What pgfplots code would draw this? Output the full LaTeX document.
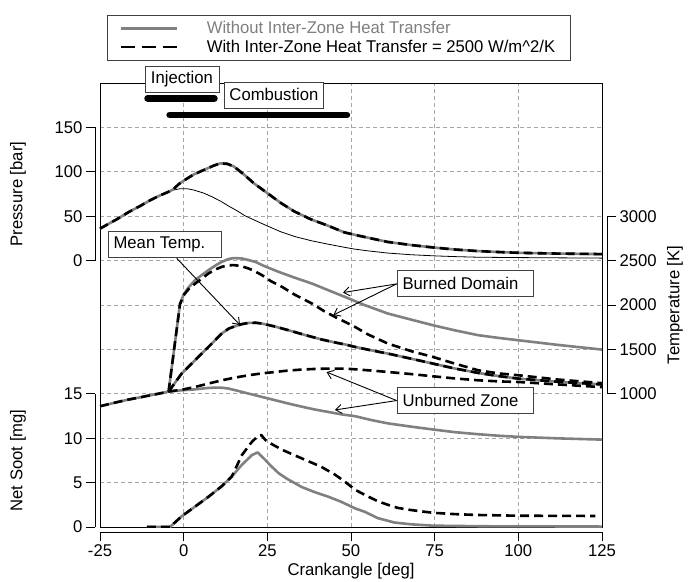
\documentclass[border=0pt]{standalone}
\usepackage{fontspec}
\setmainfont{Liberation Sans}[FakeStretch=0.98]
\usepackage{pgfplots}
\pgfplotsset{compat=1.18}
\usetikzlibrary{arrows.meta}
\definecolor{lgray}{RGB}{128,128,128}
\definecolor{gridc}{RGB}{165,165,165}
\pgfplotsset{
  base/.style={scale only axis, width=502pt, height=444pt, xmin=-25, xmax=125, at={(0pt,0pt)}, anchor=south west},
  woht/.style={lgray, line width=2.6pt, line join=round},
  wht/.style={black, line width=2.6pt, dash pattern=on 9pt off 5pt, line join=round},
  tickax/.style={scale only axis, axis line style={black, line width=0.8pt}, tick style={black, line width=0.8pt}, tick align=outside, major tick length=9pt, xmin=0, xmax=1},
}
\tikzset{
  lbl/.style={draw=black!75, line width=0.8pt, fill=white, anchor=south west, inner xsep=5.5pt, inner ysep=0pt, minimum height=26pt},
  arr/.style={black, line width=0.9pt, -{Straight Barb[length=6pt,width=9pt]}},
}
\begin{document}
\begin{tikzpicture}[font=\fontsize{17}{20}\selectfont]
\useasboundingbox (-100pt,-54pt) rectangle (588pt,527pt);

% ---------- main axis: frame, grid, pressure ----------
\begin{axis}[base, ymin=-300, ymax=200,
  axis line style={black, line width=0.8pt},
  xtick={-25,0,25,50,75,100,125}, ytick={-300,-250,-200,-150,-100,-50,0,50,100,150,200},
  xticklabels={}, yticklabels={}, major tick length=0pt,
  grid=major, major grid style={gridc, line width=0.7pt, dash pattern=on 4pt off 3pt},
  clip=false,
  legend image code/.code={\draw[#1, line width=2.6pt] (0pt,0pt) -- (56pt,0pt);},
  legend style={at={(0.0139,1.0502)}, anchor=south west, draw=black!75, fill=white,
    cells={anchor=west}, inner xsep=13pt, inner ysep=4.5pt, row sep=1pt,
    font=\fontsize{17}{20}\selectfont},
]
% motored pressure (thin)
\addplot[black, line width=0.8pt, forget plot] coordinates {
(-25,36) (-20,46.5) (-16.5,54.5) (-13,61.5) (-10,68) (-7,73.5) (-4.5,77.5) (-3,79.5) (-1,81) (1,81)
(3,79.5) (6,76) (8.4,72) (11,67) (13.4,61.5) (16,56) (18.3,50.5) (21.5,45) (25,39) (29,32.5)
(33.3,27) (38,22.5) (43,18.6) (48,15) (51,13) (55,11) (61,8.5) (68,6.6) (74.5,5.4) (81,4.5)
(88,3.8) (100,3.4) (112,3.1) (125,2.8)};
% firing pressure, without
\addplot[woht, forget plot] coordinates {
(-25,36) (-20,46.5) (-16.5,54.5) (-13,61.5) (-10,68) (-7,73.5) (-4.5,77.5) (-3,80.5) (-1.5,86) (0,90)
(3,97) (6,102) (9,107) (11,109.5) (13,109) (15,106) (18,97) (21,87) (25,76) (29,65)
(33,55.5) (38,46.5) (43,39.5) (48,31.8) (52,28.3) (56,25) (61,21) (68,17.5) (74.5,14.8) (81,12.5)
(88,10.7) (95,9.5) (100,8.8) (110,8) (125,7.3)};
% firing pressure, with
\addplot[wht, forget plot] coordinates {
(-25,36) (-20,46.5) (-16.5,54.5) (-13,61.5) (-10,68) (-7,73.5) (-4.5,77.5) (-3,80.5) (-1.5,86) (0,90)
(3,97) (6,102) (9,107) (11,109.5) (13,109) (15,106) (18,97) (21,87) (25,76) (29,65)
(33,55.5) (38,46.5) (43,39.5) (48,31.8) (52,28.3) (56,25) (61,21) (68,17.5) (74.5,14.8) (81,12.5)
(88,10.7) (95,9.5) (100,8.8) (110,8) (125,7.3)};
% injection and combustion duration bars
\addplot[black, line width=6.5pt, line cap=round, forget plot] coordinates {(-10.8,182.8) (9.2,182.8)};
\addplot[black, line width=6.5pt, line cap=round, forget plot] coordinates {(-4.2,164) (48.8,164)};
\addlegendimage{lgray}
\addlegendentry{\hspace*{26pt}\textcolor{lgray}{Without Inter-Zone Heat Transfer}}
\addlegendimage{black, dash pattern=on 14pt off 7pt}
\addlegendentry{\hspace*{26pt}With Inter-Zone Heat Transfer = 2500 W/m\textasciicircum 2/K}
\end{axis}

% ---------- temperature ----------
\begin{axis}[base, ymin=-500, ymax=4500, hide axis, clip=false]
% burned domain, without
\addplot[woht] coordinates {
(-25,860) (-20,905) (-16.5,935) (-13,960) (-10,983) (-7,1005) (-4.5,1025) (-1.1,2010) (0,2120) (1.5,2200)
(3.4,2280) (5.5,2340) (7.4,2392) (9.5,2445) (11.4,2486) (13.4,2518) (15,2528) (17.4,2524) (19.5,2505) (21.4,2486)
(24,2440) (28.4,2373) (33,2310) (38.3,2242) (43,2170) (48.2,2091) (54,2000) (61,1904) (68,1835) (74.5,1772)
(81,1715) (88,1660) (94,1630) (100,1603) (112,1550) (125,1498)};
% mean, without
\addplot[woht] coordinates {
(-4.5,1025) (-0.6,1228) (3.4,1378) (7.4,1528) (11.4,1679) (13.5,1735) (15.4,1761) (17.4,1785) (19.4,1798) (21.5,1800)
(23.4,1791) (27,1760) (31.3,1716) (36,1665) (41.3,1611) (45,1580) (48.2,1556) (51.2,1528) (56,1490) (61,1453)
(68,1395) (74.5,1340) (81,1285) (88,1235) (94,1200) (100,1171) (112,1135) (125,1105)};
% unburned, without
\addplot[woht] coordinates {
(-4.5,1025) (-1,1038) (3.4,1050) (7,1065) (9.4,1070) (11.5,1068) (13.4,1059) (16,1035) (19.4,1002) (23.4,965)
(27.4,927) (31.3,890) (35.3,855) (39.3,822) (43.3,795) (47.2,768) (51.2,748) (56,705) (61,667) (68,630)
(74.5,598) (81,568) (88,545) (94,528) (100,515) (112,498) (125,484)};
% burned domain, with
\addplot[wht] coordinates {
(-25,860) (-20,905) (-16.5,935) (-13,960) (-10,983) (-7,1005) (-4.5,1025) (-1.1,2010) (0,2110) (1.5,2180)
(3.4,2240) (5.5,2300) (7.4,2355) (9.5,2400) (11.4,2430) (13.4,2447) (15,2449) (17,2440) (19.5,2410) (21.5,2375)
(23.4,2336) (26,2270) (29.4,2204) (33,2120) (38.3,2017) (42,1930) (45.2,1866) (48.2,1810) (51.2,1753) (55,1670)
(61,1566) (68,1480) (74.5,1415) (81,1340) (88,1265) (94,1230) (100,1209) (112,1160) (125,1120)};
% mean, with
\addplot[wht] coordinates {
(-4.5,1025) (-0.6,1228) (3.4,1378) (7.4,1528) (11.4,1679) (13.5,1735) (15.4,1761) (17.4,1785) (19.4,1798) (21.5,1800)
(23.4,1791) (27,1760) (31.3,1716) (36,1665) (41.3,1611) (45,1580) (48.2,1556) (51.2,1528) (56,1490) (61,1453)
(68,1395) (74.5,1340) (81,1285) (88,1235) (94,1200) (100,1171) (112,1135) (125,1105)};
% unburned, with
\addplot[wht] coordinates {
(-4.5,1025) (0,1050) (3.4,1077) (7.4,1115) (11.4,1152) (15.4,1183) (19.4,1209) (23.4,1230) (27.4,1246) (31.3,1262)
(35.3,1273) (39.3,1280) (43.3,1284) (48.2,1284) (51.2,1276) (56,1262) (61,1246) (68,1222) (74.5,1197) (81,1173)
(88,1152) (94,1140) (100,1133) (112,1105) (125,1075)};
% annotations
\node[lbl] at (axis cs:-11.55,4391) {\makebox[63pt][l]{Injection}};
\node[lbl] at (axis cs:11.93,4215) {\makebox[88pt][l]{Combustion}};
\node[lbl] at (axis cs:-22.7,2526) {\makebox[102pt][l]{Mean Temp.}};
\node[lbl] (bd) at (axis cs:63.65,2087) {\makebox[125pt][l]{Burned Domain}};
\node[lbl] (uz) at (axis cs:63.65,773) {\makebox[125pt][l]{Unburned Zone}};
\draw[arr] (axis cs:-2.08,2526) -- (axis cs:16.83,1775);
\draw[arr] (bd.west) -- (axis cs:47.6,2140);
\draw[arr] (bd.west) -- (axis cs:44.7,1887);
\draw[arr] (uz.west) -- (axis cs:42.7,1245);
\draw[arr] (uz.west) -- (axis cs:45.2,818);
\end{axis}

% ---------- soot ----------
\begin{axis}[base, ymin=0, ymax=50, hide axis]
\addplot[woht] coordinates {
(-11,0) (-4.1,0) (-0.6,1.2) (3.4,2.3) (7.4,3.4) (11.4,4.6) (14.4,5.7) (17.4,7.0) (20.4,8.1) (22.1,8.4)
(24.4,7.55) (26,6.9) (28.4,6.05) (31,5.4) (35.3,4.5) (39,3.95) (43.3,3.4) (47,2.85) (51.2,2.1) (54.2,1.7)
(58,1.0) (63,0.5) (68,0.3) (74.5,0.15) (90,0.08) (125,0.05)};
\addplot[wht] coordinates {
(-11,0) (-4.1,0) (-0.6,1.2) (3.4,2.3) (7.4,3.4) (11.4,4.6) (14.4,5.7) (17.4,8.1) (20.4,9.6) (22.4,10.3)
(23.2,10.35) (24.4,9.8) (26.5,9.3) (29.4,8.7) (33,8.1) (37.3,7.4) (41,6.8) (45.2,5.9) (48.2,5.1) (51.2,4.2)
(54.2,3.6) (58,2.9) (61,2.5) (64,2.15) (68.1,1.9) (74.5,1.6) (81,1.45) (88,1.35) (100,1.27) (123,1.24)};
\end{axis}

% ---------- offset tick axes ----------
\begin{axis}[tickax, width=10pt, height=133.2pt, at={(-5pt,266.4pt)}, anchor=south west,
  ymin=0, ymax=150, hide x axis, axis y line*=left,
  ytick={0,50,100,150}, yticklabels={0,50,100,150},
  ylabel={Pressure [bar]}, ylabel style={at={(axis description cs:-7.7,0.5)}, anchor=center, rotate=0}]
\addplot[draw=none] coordinates {(0,0)};
\end{axis}
\begin{axis}[tickax, width=10pt, height=133.2pt, at={(-5pt,0pt)}, anchor=south west,
  ymin=0, ymax=15, hide x axis, axis y line*=left,
  ytick={0,5,10,15}, yticklabels={0,5,10,15},
  ylabel={Net Soot [mg]}, ylabel style={at={(axis description cs:-7.7,0.5)}, anchor=center, rotate=0}]
\addplot[draw=none] coordinates {(0,0)};
\end{axis}
\begin{axis}[tickax, width=10pt, height=177.6pt, at={(507pt,133.2pt)}, anchor=south east,
  ymin=1000, ymax=3000, hide x axis, axis y line*=right,
  ytick={1000,1500,2000,2500,3000}, yticklabels={1000,1500,2000,2500,3000},
  ylabel={Temperature [K]}, ylabel style={at={(axis description cs:7.8,0.5)}, anchor=center, rotate=0}]
\addplot[draw=none] coordinates {(0,1000)};
\end{axis}
\begin{axis}[tickax, width=502pt, height=10pt, at={(0pt,-5pt)}, anchor=south west,
  xmin=-25, xmax=125, ymin=0, ymax=1, hide y axis, axis x line*=bottom,
  xtick={-25,0,25,50,75,100,125}, xticklabels={-25,0,25,50,75,100,125},
  xlabel={Crankangle [deg]}, xlabel style={at={(axis description cs:0.5,-3.9)}, anchor=center}]
\addplot[draw=none] coordinates {(0,0)};
\end{axis}
\end{tikzpicture}
\end{document}
